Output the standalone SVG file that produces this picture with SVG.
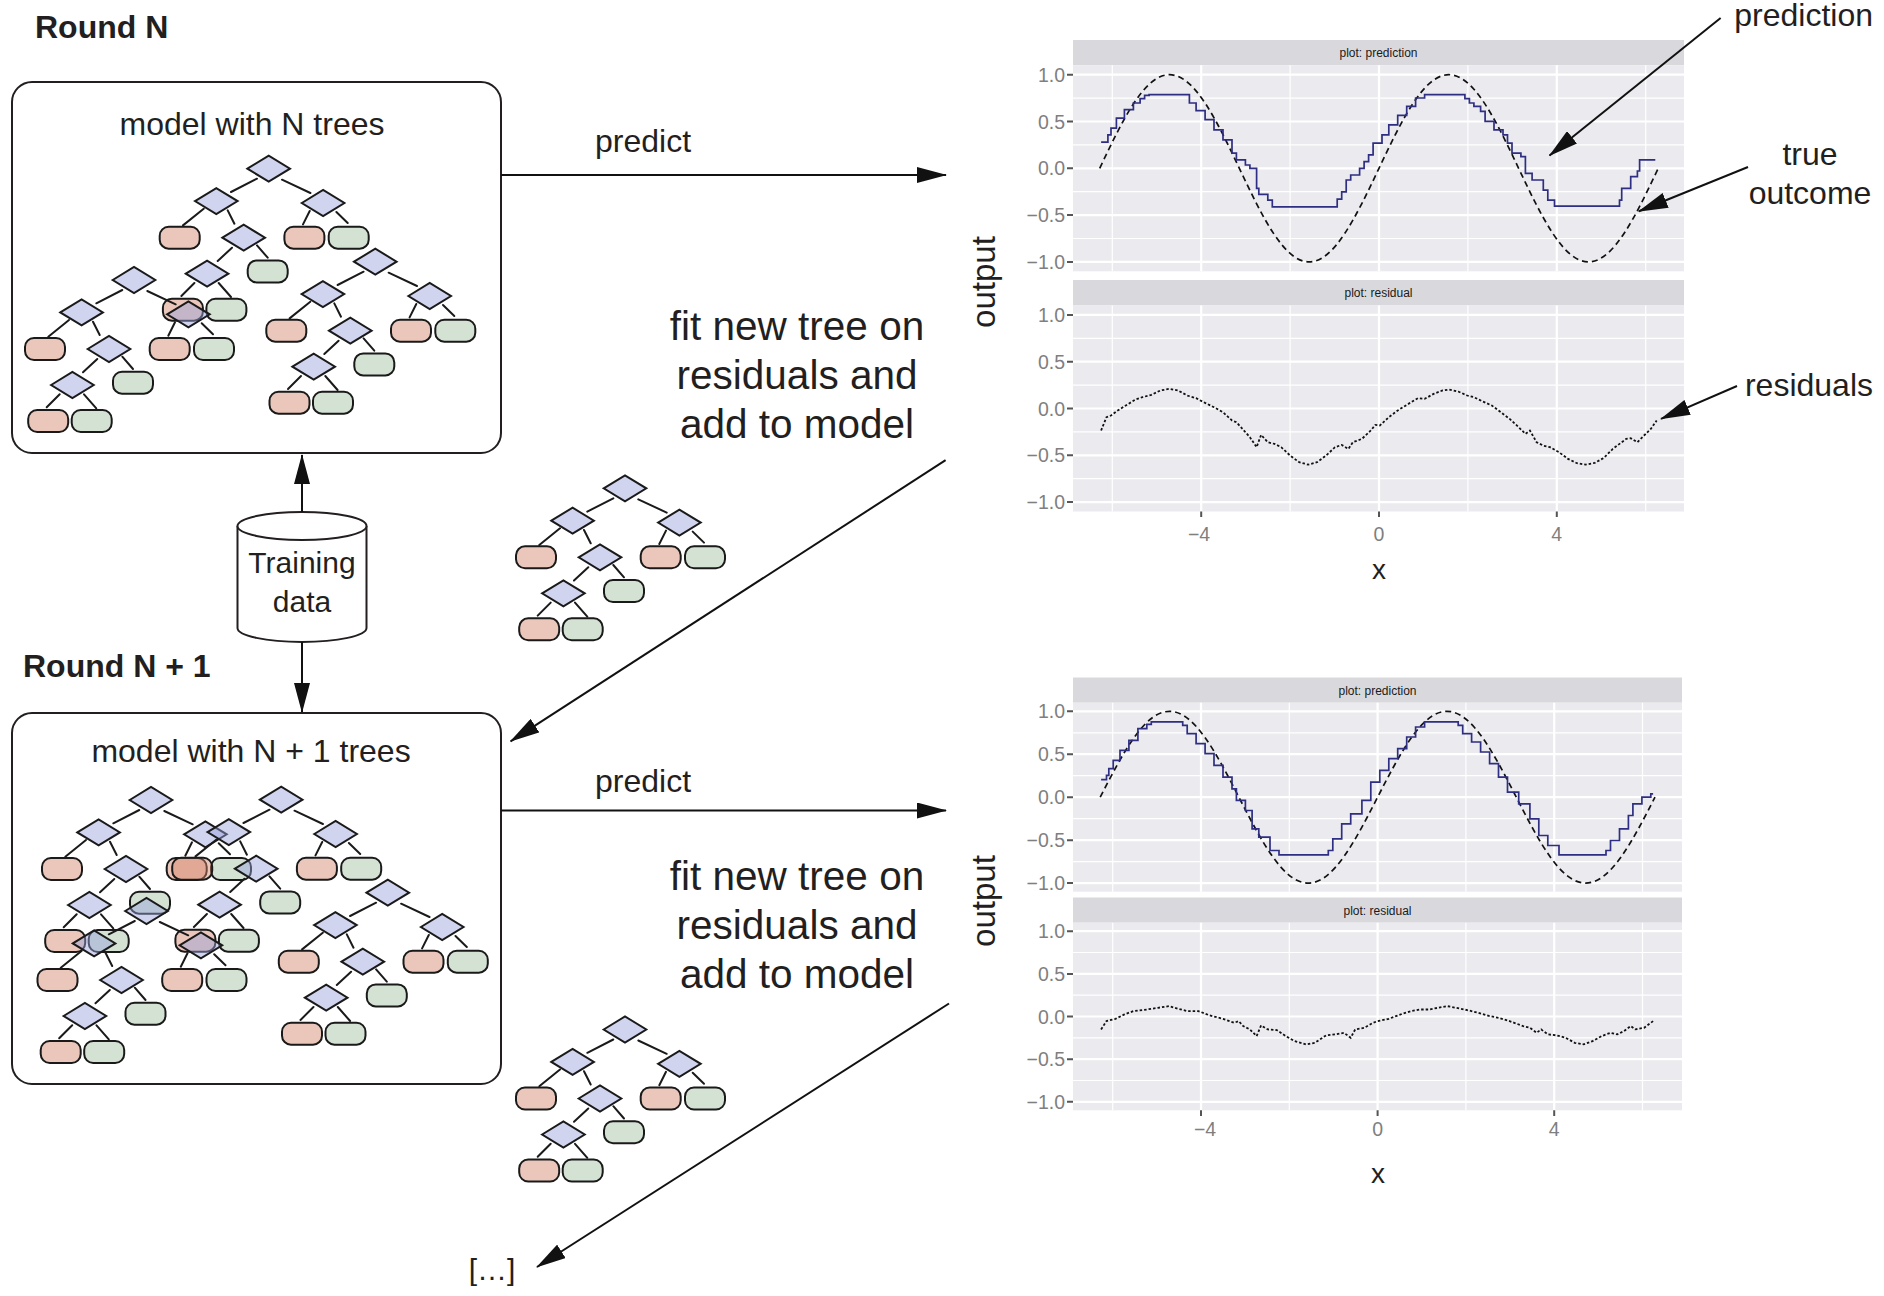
<svg xmlns="http://www.w3.org/2000/svg" xmlns:xlink="http://www.w3.org/1999/xlink" width="1884" height="1296" viewBox="0 0 1884 1296">
<style>
.t{font-family:"Liberation Sans",Arial,Helvetica,sans-serif;fill:#231f20}
.b{font-weight:bold}
.box{fill:#fff;stroke:#231f20;stroke-width:2}
.te{fill:none;stroke:#1a1a1a;stroke-width:2;stroke-linecap:round}
.dn{fill:rgba(150,160,220,0.45);stroke:#1a1a1a;stroke-width:2}
.lp{fill:rgba(210,130,105,0.45);stroke:#1a1a1a;stroke-width:2}
.lg{fill:rgba(160,190,160,0.45);stroke:#1a1a1a;stroke-width:2}
.con{fill:none;stroke:#111;stroke-width:2;marker-end:url(#ah)}
.ann{fill:none;stroke:#111;stroke-width:2;marker-end:url(#ah)}
.panel{fill:#ebebef}
.strip{fill:#d9d9dd}
.gmaj{fill:none;stroke:#fff;stroke-width:2.2}
.gmin{fill:none;stroke:#fff;stroke-width:1.2}
.tk{fill:none;stroke:#555;stroke-width:2}
.tl{font-family:"Liberation Sans",Arial,sans-serif;font-size:19.5px;fill:#7f7f7f}
.sl{font-family:"Liberation Sans",Arial,sans-serif;font-size:12px;fill:#1a1a1a}
.truth{fill:none;stroke:#111;stroke-width:1.7;stroke-dasharray:6 4}
.pred{fill:none;stroke:#2e2e82;stroke-width:1.7}
.res{fill:none;stroke:#111;stroke-width:1.8;stroke-dasharray:2.5 2}
</style>
<defs>
<marker id="ah" viewBox="0 0 30 16" refX="29" refY="8" markerWidth="30" markerHeight="16" markerUnits="userSpaceOnUse" orient="auto">
<path d="M0 0L30 8L0 16Z" fill="#111"/>
</marker>
<path id="dm" d="M-21.3 0L0 -13L21.3 0L0 13Z"/>
<rect id="lf" x="-20" y="-11" width="40" height="22" rx="9"/>
<g id="tree">
<path class="te" d="M-11.7 10L-37.7 23.3M13.3 11L41.7 24.3M-65 40L-85.7 56.7M-41 41.7L-34.3 55M41 42.3L34.3 55.7M67.7 43.3L79 54.3M-36.7 79L-51 92.3M-11.7 76.7L-1 89M-74.3 114.3L-87.3 127.3M-50 114.3L-37.7 128.3"/>
<use href="#lf" x="-89" y="69" class="lp"/>
<use href="#lf" x="35.7" y="69" class="lp"/>
<use href="#lf" x="-85.8" y="141" class="lp"/>
<use href="#lf" x="80" y="69" class="lg"/>
<use href="#lf" x="-1" y="102.7" class="lg"/>
<use href="#lf" x="-42.3" y="141" class="lg"/>
<use href="#dm" x="0" y="0" class="dn"/>
<use href="#dm" x="-52.4" y="32.4" class="dn"/>
<use href="#dm" x="54.4" y="34.3" class="dn"/>
<use href="#dm" x="-25" y="69" class="dn"/>
<use href="#dm" x="-61.6" y="105" class="dn"/>
</g>
</defs>
<rect width="1884" height="1296" fill="#fff"/>

<g id="round-n-label"><text class="t b" x="35" y="38" font-size="32">Round N</text></g>
<g id="round-n1-label"><text class="t b" x="23" y="677" font-size="32">Round N + 1</text></g>

<g id="model-n">
<rect class="box" x="12" y="82" width="489" height="371" rx="20"/>
<text class="t" x="252" y="135" font-size="32" text-anchor="middle">model with N trees</text>
<use href="#tree" x="268.7" y="168.7"/>
<use href="#tree" x="134" y="280"/>
<use href="#tree" x="375.3" y="261.7"/>
</g>

<g id="model-n1">
<rect class="box" x="12" y="713" width="489" height="371" rx="20"/>
<text class="t" x="251" y="762" font-size="32" text-anchor="middle">model with N + 1 trees</text>
<use href="#tree" x="151" y="800"/>
<use href="#tree" x="281.2" y="799.7"/>
<use href="#tree" x="146.5" y="911"/>
<use href="#tree" x="387.8" y="892.7"/>
</g>

<g id="training-data">
<path d="M237.5 526V628A64.5 14 0 0 0 366.5 628V526" fill="#fff" stroke="#231f20" stroke-width="2"/>
<ellipse cx="302" cy="526" rx="64.5" ry="14" fill="#fff" stroke="#231f20" stroke-width="2"/>
<text class="t" x="302" y="573" font-size="30" text-anchor="middle">Training</text>
<text class="t" x="302" y="612" font-size="30" text-anchor="middle">data</text>
</g>

<g id="new-tree-1"><use href="#tree" x="625" y="488.3"/></g>
<g id="new-tree-2"><use href="#tree" x="625" y="1029.5"/></g>

<g id="labels">
<text class="t" x="643" y="152" font-size="32" text-anchor="middle">predict</text>
<text class="t" x="643" y="792" font-size="32" text-anchor="middle">predict</text>
<g font-size="40.5" text-anchor="middle">
<text class="t" x="797" y="340">fit new tree on</text>
<text class="t" x="797" y="389">residuals and</text>
<text class="t" x="797" y="438">add to model</text>
<text class="t" x="797" y="890">fit new tree on</text>
<text class="t" x="797" y="939">residuals and</text>
<text class="t" x="797" y="988">add to model</text>
</g>
<text class="t" x="492" y="1280" font-size="30" text-anchor="middle">[…]</text>
</g>

<g id="connectors">
<path class="con" d="M501 175H946"/>
<path class="con" d="M501 810.5H946"/>
<path class="con" d="M945.6 460.2L510.6 741.3"/>
<path class="con" d="M949 1003.5L537 1267"/>
<path class="con" d="M302 512V455"/>
<path class="con" d="M302 642V712"/>
</g>

<g id="plot-n">
<rect class="strip" x="1073" y="40" width="611" height="25.3"/>
<text class="sl" x="1378.5" y="57" text-anchor="middle">plot: prediction</text>
<rect class="panel" x="1073" y="65.3" width="611" height="206"/>
<path class="gmin" d="M1073 98.1H1684M1073 144.9H1684M1073 191.7H1684M1073 238.5H1684M1112.3 65.3V271.3M1290.1 65.3V271.3M1467.9 65.3V271.3M1645.7 65.3V271.3"/>
<path class="gmaj" d="M1073 74.7H1684M1073 121.5H1684M1073 168.3H1684M1073 215.1H1684M1073 261.9H1684M1201.2 65.3V271.3M1379 65.3V271.3M1556.8 65.3V271.3"/>
<rect class="strip" x="1073" y="280" width="611" height="25.5"/>
<text class="sl" x="1378.5" y="297" text-anchor="middle">plot: residual</text>
<rect class="panel" x="1073" y="305.5" width="611" height="206"/>
<path class="gmin" d="M1073 338.3H1684M1073 385.1H1684M1073 431.9H1684M1073 478.7H1684M1112.3 305.5V511.5M1290.1 305.5V511.5M1467.9 305.5V511.5M1645.7 305.5V511.5"/>
<path class="gmaj" d="M1073 314.9H1684M1073 361.7H1684M1073 408.5H1684M1073 455.3H1684M1073 502.1H1684M1201.2 305.5V511.5M1379 305.5V511.5M1556.8 305.5V511.5"/>
<path class="tk" d="M1067 74.7H1073M1067 121.5H1073M1067 168.3H1073M1067 215.1H1073M1067 261.9H1073M1067 314.9H1073M1067 361.7H1073M1067 408.5H1073M1067 455.3H1073M1067 502.1H1073M1201.2 511.5V517M1379 511.5V517M1556.8 511.5V517"/>
<g text-anchor="end">
<text class="tl" x="1065" y="81.7">1.0</text>
<text class="tl" x="1065" y="128.5">0.5</text>
<text class="tl" x="1065" y="175.3">0.0</text>
<text class="tl" x="1065" y="222.1">−0.5</text>
<text class="tl" x="1065" y="268.9">−1.0</text>
<text class="tl" x="1065" y="321.9">1.0</text>
<text class="tl" x="1065" y="368.7">0.5</text>
<text class="tl" x="1065" y="415.5">0.0</text>
<text class="tl" x="1065" y="462.3">−0.5</text>
<text class="tl" x="1065" y="509.1">−1.0</text>
</g>
<g text-anchor="middle">
<text class="tl" x="1199" y="541">−4</text>
<text class="tl" x="1379" y="541">0</text>
<text class="tl" x="1556.8" y="541">4</text>
</g>
<text class="t" x="1379" y="579" font-size="28" text-anchor="middle">x</text>
<text class="t" font-size="33" text-anchor="middle" transform="translate(995 282) rotate(-90)">output</text>
<path class="truth" d="M1099.7 168.3c22.77 -47.95 44.55 -93.6 69.82 -93.6s47.05 45.65 69.82 93.6s44.55 93.6 69.82 93.6s47.05 -45.65 69.82 -93.6s44.55 -93.6 69.82 -93.6s47.05 45.65 69.82 93.6s44.55 93.6 69.82 93.6s47.05 -45.65 69.82 -93.6"/>
<path class="pred" d="M1101.1 142.2H1107.9V134.8H1111V128.1H1116.4V118.1H1124.4V109.7H1133.4V103H1140.1V98.6H1144.6V95.3H1149.1V94.6H1189.4V103H1196.1V110.7H1205.1V119.7H1214V129.8H1223V139.8H1232V153.2H1236.4V159.9H1245.4V165H1249.9V168.3H1256.6V188.4H1258.8V194.4H1267.8V200.1H1272.3V206.8H1337.2V199.1H1341.7V191.8H1346.2V180H1350.7V175H1359.6V168.3H1364.1V161.6H1368.6V154.9H1373.1V143.2H1382V134.8H1388.8V124.8H1397.7V115.4H1406.7V106.3H1415.6V98H1424.6V94.6H1464.9V98.6H1469.4V103H1473.9V106.3H1480.6V111.4H1485.1V121.4H1494V129.8H1503V134.8H1507.5V143.2H1512V153.2H1520.9V156.6H1525.4V173.3H1532.1V180H1543.3V190.1H1547.8V200.1H1554.5V206.2H1619.5V200.1H1621.7V188.4H1630.7V176.7H1637.4V171H1639.6V159.9H1646.4H1655.3"/>
<path class="res" d="M1101.1 430.5L1106.5 417.2L1111 415.5L1117.7 410.5L1126.7 404.9L1135.6 399.5L1142.4 397.2L1151.3 394.9L1160.3 390.5L1169.2 388.9L1178.2 390.5L1187.2 395.5L1196.1 398.2L1205.1 402.9L1214 407.2L1223 412.2L1232 420.5L1236.4 422.2L1240.9 427.2L1249.9 437.2L1256.6 447.2L1261.1 434.9L1267.8 442.2L1274.5 443.9L1281.2 447.2L1290.2 455.6L1299.2 462.2L1308.1 464.6L1317.1 462.2L1326 455.6L1335 447.2L1341.7 444.9L1348.4 448.9L1352.9 442.2L1361.9 438.9L1370.8 430.5L1375.3 424.9L1379.8 425.5L1388.8 417.2L1397.7 410.5L1406.7 404.9L1417.9 398.2L1424.6 398.9L1433.6 393.9L1442.5 390.5L1449.2 389.5L1458.2 391.5L1467.2 395.5L1473.9 397.2L1482.8 401.5L1491.8 405.5L1500.8 412.2L1509.7 418.9L1518.7 427.2L1525.4 433.9L1529.9 430.5L1536.6 442.2L1543.3 445.6L1550 447.2L1559 452.2L1568 458.9L1576.9 463.2L1585.9 464.6L1594.8 462.9L1603.8 457.9L1612.8 448.9L1619.5 443.9L1626.2 438.9L1630.7 438.2L1637.4 442.2L1644.1 435.5L1650.8 428.9L1656.7 420.5"/>
</g>

<g id="plot-n1">
<rect class="strip" x="1073" y="677.5" width="609" height="25.2"/>
<text class="sl" x="1377.5" y="694.5" text-anchor="middle">plot: prediction</text>
<rect class="panel" x="1073" y="702.7" width="609" height="189"/>
<path class="gmin" d="M1073 732.8H1682M1073 775.7H1682M1073 818.7H1682M1073 861.6H1682M1112.7 702.7V891.7M1289.3 702.7V891.7M1465.9 702.7V891.7M1642.5 702.7V891.7"/>
<path class="gmaj" d="M1073 711.3H1682M1073 754.2H1682M1073 797.2H1682M1073 840.2H1682M1073 883.1H1682M1201 702.7V891.7M1377.6 702.7V891.7M1554.2 702.7V891.7"/>
<rect class="strip" x="1073" y="897.5" width="609" height="25.2"/>
<text class="sl" x="1377.5" y="914.5" text-anchor="middle">plot: residual</text>
<rect class="panel" x="1073" y="922.7" width="609" height="187.6"/>
<path class="gmin" d="M1073 952.5H1682M1073 995.2H1682M1073 1037.8H1682M1073 1080.5H1682M1112.7 922.7V1110.3M1289.3 922.7V1110.3M1465.9 922.7V1110.3M1642.5 922.7V1110.3"/>
<path class="gmaj" d="M1073 931.2H1682M1073 973.9H1682M1073 1016.5H1682M1073 1059.2H1682M1073 1101.8H1682M1201 922.7V1110.3M1377.6 922.7V1110.3M1554.2 922.7V1110.3"/>
<path class="tk" d="M1067 711.3H1073M1067 754.2H1073M1067 797.2H1073M1067 840.2H1073M1067 883.1H1073M1067 931.2H1073M1067 973.9H1073M1067 1016.5H1073M1067 1059.2H1073M1067 1101.8H1073M1201 1110.3V1116M1377.6 1110.3V1116M1554.2 1110.3V1116"/>
<g text-anchor="end">
<text class="tl" x="1065" y="718.3">1.0</text>
<text class="tl" x="1065" y="761.2">0.5</text>
<text class="tl" x="1065" y="804.2">0.0</text>
<text class="tl" x="1065" y="847.2">−0.5</text>
<text class="tl" x="1065" y="890.1">−1.0</text>
<text class="tl" x="1065" y="938.2">1.0</text>
<text class="tl" x="1065" y="980.9">0.5</text>
<text class="tl" x="1065" y="1023.5">0.0</text>
<text class="tl" x="1065" y="1066.2">−0.5</text>
<text class="tl" x="1065" y="1108.8">−1.0</text>
</g>
<g text-anchor="middle">
<text class="tl" x="1205" y="1136">−4</text>
<text class="tl" x="1377.6" y="1136">0</text>
<text class="tl" x="1554.2" y="1136">4</text>
</g>
<text class="t" x="1378" y="1183" font-size="28" text-anchor="middle">x</text>
<text class="t" font-size="33" text-anchor="middle" transform="translate(995 901) rotate(-90)">output</text>
<path class="truth" d="M1100.2 797.2c22.62 -44 44.25 -85.9 69.35 -85.9s46.73 41.9 69.35 85.9s44.25 85.9 69.35 85.9s46.73 -41.9 69.35 -85.9s44.25 -85.9 69.35 -85.9s46.73 41.9 69.35 85.9s44.25 85.9 69.35 85.9s46.73 -41.9 69.35 -85.9"/>
<path class="pred" d="M1101.1 779.7H1106.5V775.4H1108.8V768.7H1113.2V760.4H1120V750.3H1128.9V740.3H1137.9V728.6H1146.8V724.3H1151.3V721.9H1182.7V725.3H1187.2V733.6H1196.1V743.7H1205.1V753.7H1214V765.4H1223V777.1H1232V788.8H1236.4V800.4H1245.4V810.5H1252.1V828.8H1258.8V837.2H1270V850.5H1279V854.9H1328.3V850.5H1332.8V838.9H1341.7V823.8H1350.7V813.8H1361.9V800.4H1370.8V782.1H1379.8V770.4H1388.8V758.7H1397.7V748.7H1406.7V737H1415.6V727H1424.6V721.9H1458.2V725.3H1462.7V733.6H1471.6V742H1480.6V752H1489.6V763.7H1498.5V777.1H1507.5V792.1H1518.7V803.8H1529.9V818.8H1538.8V835.5H1547.8V845.5H1559V854.9H1606V850.5H1610.5V840.5H1619.5V828.8H1628.4V815.5H1632.9V803.8H1641.9V797.1H1650.8V793.8H1653.1"/>
<path class="res" d="M1101.1 1029.4L1106.5 1021.1L1115.5 1018.8L1124.4 1014.4L1133.4 1011.1L1146.8 1009.5L1158 1007.8L1169.2 1006.1L1178.2 1008.8L1187.2 1011.1L1198.4 1011.1L1209.6 1015.4L1223 1018.8L1234.2 1022.8L1238.7 1021.1L1243.2 1026.1L1249.9 1029.4L1256.6 1036.1L1261.1 1025.4L1267.8 1029.4L1276.8 1030.1L1285.7 1036.1L1294.7 1041.1L1305.9 1044.4L1314.8 1042.8L1326 1035.4L1335 1034.4L1344 1032.8L1350.7 1037.8L1355.2 1029.4L1364.1 1027.8L1373.1 1022.8L1377.6 1021.1L1388.8 1018.8L1402.2 1013.8L1411.2 1011.1L1420.1 1009.5L1429.1 1009.5L1438 1007.8L1447 1006.1L1456 1007.8L1467.2 1010.1L1478.4 1012.8L1489.6 1016.1L1498.5 1017.8L1507.5 1020.4L1514.2 1022.8L1523.2 1026.1L1529.9 1027.8L1536.6 1032.8L1541.1 1029.4L1547.8 1034.4L1556.8 1035.4L1565.7 1037.8L1574.7 1042.8L1583.6 1044.4L1592.6 1041.1L1601.6 1036.1L1610.5 1032.8L1617.2 1034.4L1624 1031.1L1630.7 1026.1L1635.2 1029.4L1644.1 1027.8L1653.1 1021.1"/>
</g>

<g id="annotations">
<text class="t" x="1873" y="26" font-size="32" text-anchor="end">prediction</text>
<text class="t" x="1810" y="165" font-size="32" text-anchor="middle">true</text>
<text class="t" x="1810" y="204" font-size="32" text-anchor="middle">outcome</text>
<text class="t" x="1873" y="396" font-size="32" text-anchor="end">residuals</text>
<path class="ann" d="M1720.6 18L1549.5 155.5"/>
<path class="ann" d="M1748 167L1638.8 211.3"/>
<path class="ann" d="M1737 386L1661 418.8"/>
</g>
</svg>
